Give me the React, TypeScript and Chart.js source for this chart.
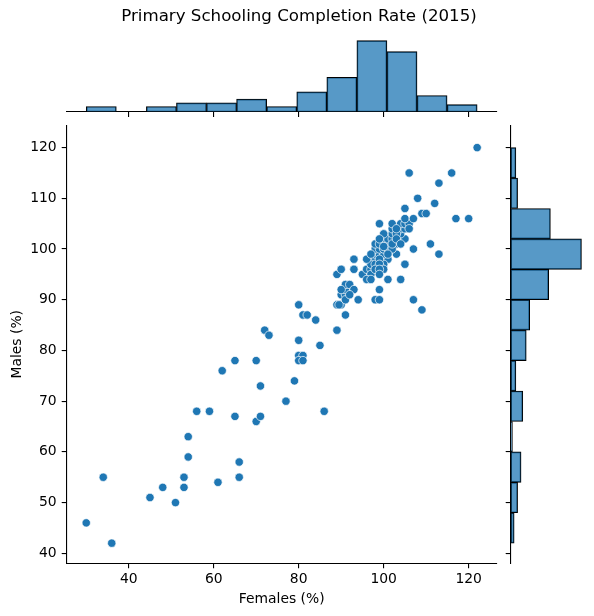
import React, { useEffect, useRef } from 'react';
import { Chart, registerables } from 'chart.js';

Chart.register(...registerables);

// ---- data ----
const FEMALES = [
  30, 36, 34, 45, 48, 51, 53, 53, 54, 54, 56, 59, 61, 65, 66, 66, 70, 71, 71, 62,
  65, 70, 72, 73, 77, 79, 86, 80, 81, 82, 84, 80, 85, 80, 81, 80, 81, 89, 89, 90,
  91, 89, 90, 90, 91, 91, 91, 91, 92, 93, 93, 93, 94, 95, 96, 97, 97, 96, 97, 98,
  99, 99, 101, 104, 107, 109, 97, 98, 100, 101, 97, 98, 100, 105, 98, 99, 100, 103, 113, 98,
  99, 100, 107, 98, 100, 101, 103, 111, 100, 101, 102, 104, 105, 102, 104, 102, 104, 105, 99, 102,
  104, 105, 106, 105, 107, 109, 110, 105, 108, 112, 113, 106, 116, 122, 117, 120, 99, 99, 100, 99,
  98, 99, 96, 101, 102, 101, 102, 103, 103, 103, 104, 92, 90, 89.5, 99, 100, 106, 97, 100, 99,
];
const MALES = [
  46, 42, 55, 51, 53, 50, 55, 53, 59, 63, 68, 68, 54, 67, 58, 55, 66, 67, 73, 76,
  78, 78, 84, 83, 70, 74, 68, 89, 87, 87, 86, 82, 81, 79, 79, 78, 78, 84, 89, 89,
  87, 95, 96, 91, 91, 90, 92, 93, 93, 92, 96, 98, 90, 95, 96, 96, 95, 94, 94, 90,
  90, 92, 94, 94, 90, 88, 98, 98, 98, 98, 97, 97, 97, 97, 99, 99, 99, 99, 99, 100,
  100, 100, 100, 101, 101, 101, 101, 101, 102, 102, 102, 102, 102, 103, 103, 104, 104, 104, 105, 105,
  105, 105, 105, 106, 106, 107, 107, 108, 110, 109, 113, 115, 115, 120, 106, 106, 98, 97, 96, 101,
  96, 96, 98, 100, 100, 99, 101, 103, 104, 102, 101, 91, 92, 89, 95, 103, 104, 99, 100.5, 102,
];

const X_BIN_EDGES = [30, 37.08, 44.15, 51.23, 58.31, 65.38, 72.46, 79.54, 86.62, 93.69, 100.77, 107.85, 114.92, 122];
const TOP_COUNTS = [3, 0, 3, 5, 5, 7, 3, 11, 19, 39, 33, 9, 4];

const Y_BIN_EDGES = [42, 48, 54, 60, 66, 72, 78, 84, 90, 96, 102, 108, 114, 120];
const RIGHT_COUNTS = [2, 4, 6, 1, 7, 3, 9, 11, 22, 41, 23, 4, 3];

const X_TICKS = [40, 60, 80, 100, 120];
const Y_TICKS = [40, 50, 60, 70, 80, 90, 100, 110, 120];
const X_MIN = 25.4;
const X_MAX = 126.6;
const Y_MIN = 38.03;
const Y_MAX = 124.4;

const TITLE = 'Primary Schooling Completion Rate (2015)';
const X_LABEL = 'Females (%)';
const Y_LABEL = 'Males (%)';

// ---- style ----
const FONT = "'DejaVu Sans', sans-serif";
const POINT_COLOR = '#1f77b4';
const BAR_FILL = 'rgba(31,119,180,0.75)';
const TEXT = '#000';

const grid = {
  display: true,
  drawOnChartArea: false,
  drawTicks: true,
  tickLength: 5,
  color: '#000',
  lineWidth: 1.1,
  offset: false,
};
const border = { display: true, color: '#000', width: 1.1 };

export default function App() {
  const mainRef = useRef<HTMLCanvasElement>(null);
  const topRef = useRef<HTMLCanvasElement>(null);
  const rightRef = useRef<HTMLCanvasElement>(null);

  useEffect(() => {
    document.body.style.margin = '0';
    const charts: Chart[] = [];

    const mainChart = new Chart(mainRef.current as HTMLCanvasElement, {
      type: 'scatter',
      data: {
        datasets: [
          {
            data: FEMALES.map((x, i) => ({ x, y: MALES[i] })),
            pointBackgroundColor: POINT_COLOR,
            pointBorderColor: '#ffffff',
            pointBorderWidth: 0.7,
            pointRadius: 4.2,
            showLine: false,
          },
        ],
      },
      options: {
        animation: false,
        responsive: false,
        events: [],
        layout: { padding: { left: 0, right: 97.3, top: 125.3, bottom: 0 } },
        plugins: { legend: { display: false }, tooltip: { enabled: false }, title: { display: false } },
        scales: {
          x: {
            type: 'linear',
            position: 'bottom',
            min: X_MIN,
            max: X_MAX,
            afterBuildTicks: (s: any) => {
              s.ticks = X_TICKS.map((v) => ({ value: v }));
            },
            afterFit: (s: any) => {
              s.height = 52.7;
            },
            grid,
            border,
            ticks: {
              color: TEXT,
              font: { family: FONT, size: 13.9 },
              padding: 3,
              maxRotation: 0,
              autoSkip: false,
              callback: (v: any) => String(v),
            },
            title: {
              display: true,
              text: X_LABEL,
              color: TEXT,
              font: { family: FONT, size: 13.9 },
              padding: { top: 0, bottom: 8 },
            },
          },
          y: {
            type: 'linear',
            position: 'left',
            min: Y_MIN,
            max: Y_MAX,
            afterBuildTicks: (s: any) => {
              s.ticks = Y_TICKS.map((v) => ({ value: v }));
            },
            afterFit: (s: any) => {
              s.width = 66.7;
            },
            grid,
            border,
            ticks: {
              color: TEXT,
              font: { family: FONT, size: 13.9 },
              padding: 5,
              autoSkip: false,
              callback: (v: any) => String(v),
            },
            title: {
              display: true,
              text: Y_LABEL,
              color: TEXT,
              font: { family: FONT, size: 13.9 },
              padding: { top: 9, bottom: 0 },
            },
          },
        },
      },
    } as any);
    charts.push(mainChart);

    const topChart = new Chart(topRef.current as HTMLCanvasElement, {
      type: 'bar',
      data: {
        datasets: [
          {
            data: TOP_COUNTS.map((c, i) => ({ x: (X_BIN_EDGES[i] + X_BIN_EDGES[i + 1]) / 2, y: c })),
            backgroundColor: BAR_FILL,
            borderColor: '#000',
            borderWidth: 1,
            borderSkipped: false,
            barPercentage: 1,
            categoryPercentage: 1,
          },
        ],
      },
      options: {
        animation: false,
        responsive: false,
        events: [],
        layout: { padding: { left: 66.7, right: 97.3, top: 7.1, bottom: 0 } },
        plugins: { legend: { display: false }, tooltip: { enabled: false }, title: { display: false } },
        scales: {
          x: {
            type: 'linear',
            position: 'bottom',
            min: X_MIN,
            max: X_MAX,
            offset: false,
            afterBuildTicks: (s: any) => {
              s.ticks = X_TICKS.map((v) => ({ value: v }));
            },
            afterFit: (s: any) => {
              s.height = 9;
            },
            grid,
            border,
            ticks: { display: false },
          },
          y: {
            type: 'linear',
            display: false,
            min: 0,
            max: Math.max(...TOP_COUNTS) * 1.05,
          },
        },
      },
    } as any);
    charts.push(topChart);

    const rightChart = new Chart(rightRef.current as HTMLCanvasElement, {
      type: 'bar',
      data: {
        datasets: [
          {
            data: RIGHT_COUNTS.map((c, i) => ({ y: (Y_BIN_EDGES[i] + Y_BIN_EDGES[i + 1]) / 2, x: c })),
            backgroundColor: BAR_FILL,
            borderColor: '#000',
            borderWidth: 1,
            borderSkipped: false,
            barPercentage: 1,
            categoryPercentage: 1,
          },
        ],
      },
      options: {
        indexAxis: 'y',
        animation: false,
        responsive: false,
        events: [],
        layout: { padding: { left: 0, right: 9, top: 5.3, bottom: 6.7 } },
        plugins: { legend: { display: false }, tooltip: { enabled: false }, title: { display: false } },
        scales: {
          y: {
            type: 'linear',
            position: 'left',
            min: Y_MIN,
            max: Y_MAX,
            offset: false,
            afterBuildTicks: (s: any) => {
              s.ticks = Y_TICKS.map((v) => ({ value: v }));
            },
            afterFit: (s: any) => {
              s.width = 10.7;
            },
            grid,
            border,
            ticks: { display: false },
          },
          x: {
            type: 'linear',
            display: false,
            min: 0,
            max: Math.max(...RIGHT_COUNTS) * 1.05,
          },
        },
      },
    } as any);
    charts.push(rightChart);

    return () => {
      charts.forEach((c) => c.destroy());
    };
  }, []);

  return (
    <div style={{ position: 'relative', width: 594, height: 616, background: '#fff', overflow: 'hidden' }}>
      <canvas ref={mainRef} width={594} height={616} style={{ position: 'absolute', left: 0, top: 0, width: 594, height: 616 }} />
      <canvas ref={topRef} width={594} height={91} style={{ position: 'absolute', left: 0, top: 30, width: 594, height: 91 }} />
      <canvas ref={rightRef} width={94} height={450} style={{ position: 'absolute', left: 500, top: 120, width: 94, height: 450 }} />
      <div
        style={{
          position: 'absolute',
          left: 0,
          top: 6,
          width: 598,
          height: 20,
          lineHeight: '20px',
          textAlign: 'center',
          fontFamily: FONT,
          fontSize: '16.67px',
          color: TEXT,
          whiteSpace: 'nowrap',
        }}
      >
        {TITLE}
      </div>
    </div>
  );
}
